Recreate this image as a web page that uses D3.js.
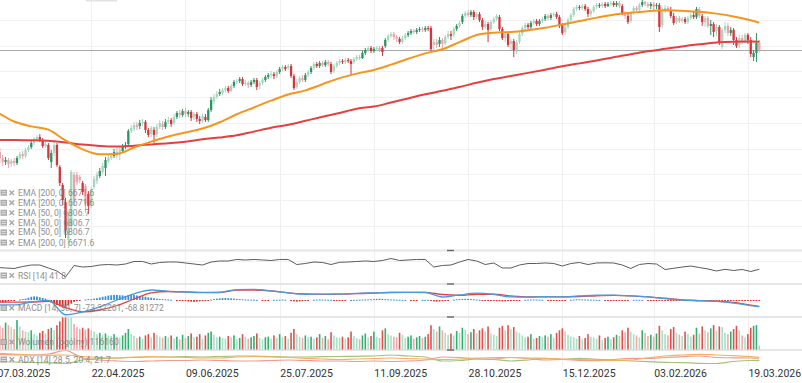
<!DOCTYPE html>
<html><head><meta charset="utf-8">
<script src="https://cdn.jsdelivr.net/npm/d3@7"></script>
<style>
html,body{margin:0;padding:0;background:#fff;overflow:hidden}
svg{display:block}
text{font-family:"Liberation Sans Narrow","Arial Narrow","Roboto",sans-serif}
</style></head><body>
<svg id="c" width="802" height="383"></svg>
<script>
// ---------- DATA ----------
const open = [5828,5773,5727,5696,5711,5680,5703,5688,5727,5758,
5742,5789,5812,5843,5875,5890,5867,5820,5828,5696,
5766,5828,5657,5517,5384,5089,5198,5595,5595,5579,
5532,5509,5447,5361,5501,5548,5587,5618,5649,5703,
5727,5742,5773,5750,5781,5812,5836,5937,5952,5983,
5976,5999,6007,5945,5913,5945,5913,5968,5991,5968,
6007,6022,5999,6046,6077,6061,6092,6069,6085,6046,
6069,6030,6015,6046,6022,6100,6170,6201,6225,6232,
6256,6271,6248,6287,6318,6326,6341,6302,6310,6295,
6318,6334,6287,6310,6334,6357,6372,6380,6365,6396,
6419,6435,6427,6442,6365,6279,6318,6349,6334,6372,
6396,6427,6458,6442,6466,6450,6474,6458,6404,6442,
6466,6481,6474,6489,6481,6474,6497,6512,6505,6544,
6567,6583,6559,6575,6583,6583,6598,6645,6676,6691,
6668,6653,6629,6660,6684,6699,6715,6707,6723,6730,
6723,6738,6738,6606,6629,6614,6645,6621,6668,6691,
6684,6730,6754,6785,6832,6855,6839,6863,6824,6847,
6800,6746,6769,6730,6785,6808,6824,6730,6660,6691,
6614,6637,6567,6629,6691,6738,6762,6746,6777,6793,
6769,6793,6808,6832,6816,6839,6847,6824,6762,6707,
6746,6800,6839,6886,6902,6894,6909,6886,6847,6870,
6902,6917,6909,6925,6909,6925,6933,6917,6933,6909,
6855,6832,6793,6855,6894,6878,6917,6940,6925,6909,
6925,6909,6917,6762,6878,6894,6878,6832,6785,6816,
6793,6808,6785,6816,6839,6824,6886,6832,6785,6816,
6754,6769,6715,6746,6590,6723,6754,6699,6723,6645,
6606,6660,6637,6684,6645,6512,6544,6621];
const high = [5843,5805,5750,5735,5727,5719,5727,5742,5773,5781,
5805,5828,5859,5890,5906,5913,5882,5859,5843,5789,
5851,5843,5672,5532,5416,5307,5633,5618,5618,5595,
5548,5524,5470,5501,5587,5618,5649,5688,5735,5750,
5766,5797,5805,5812,5836,5851,5952,5983,6007,6007,
6022,6030,6022,5960,5976,5968,5991,6022,6015,6030,
6046,6038,6069,6092,6100,6108,6116,6100,6100,6085,
6085,6053,6069,6069,6116,6201,6225,6248,6264,6271,
6287,6287,6302,6334,6341,6357,6357,6334,6326,6334,
6349,6349,6326,6349,6372,6388,6404,6396,6411,6435,
6450,6450,6458,6458,6380,6341,6365,6372,6388,6411,
6442,6474,6474,6481,6481,6489,6489,6474,6458,6481,
6497,6497,6505,6505,6497,6512,6528,6528,6559,6583,
6598,6598,6590,6598,6598,6598,6660,6691,6707,6707,
6684,6668,6676,6699,6715,6730,6730,6738,6746,6746,
6754,6754,6754,6653,6653,6668,6660,6684,6715,6715,
6746,6769,6793,6847,6870,6878,6878,6878,6863,6863,
6816,6793,6785,6800,6824,6847,6839,6746,6707,6707,
6653,6653,6645,6707,6754,6777,6777,6793,6808,6808,
6808,6824,6847,6847,6855,6863,6863,6839,6777,6762,
6816,6855,6902,6917,6917,6925,6925,6902,6886,6917,
6933,6933,6940,6940,6940,6948,6948,6948,6948,6925,
6870,6855,6870,6909,6909,6933,6956,6948,6940,6940,
6940,6933,6933,6894,6917,6909,6902,6855,6832,6832,
6824,6824,6832,6855,6863,6902,6902,6847,6832,6832,
6800,6785,6769,6762,6738,6785,6777,6746,6738,6668,
6684,6684,6699,6699,6668,6567,6699,6645];
const low = [5750,5688,5665,5672,5649,5657,5665,5672,5711,5719,
5727,5773,5797,5828,5859,5851,5805,5805,5711,5649,
5742,5657,5509,5361,5104,5027,5167,5353,5517,5532,
5439,5299,5291,5338,5486,5524,5571,5602,5587,5688,
5711,5727,5727,5711,5766,5797,5820,5921,5937,5945,
5952,5976,5921,5890,5890,5843,5890,5952,5945,5952,
5991,5968,5983,6030,6038,6046,6046,6046,6015,6022,
6007,5991,5999,6007,6007,6085,6147,6186,6209,6217,
6240,6232,6240,6271,6302,6310,6287,6287,6271,6279,
6302,6256,6264,6295,6318,6341,6349,6341,6349,6380,
6404,6404,6411,6349,6256,6264,6302,6318,6318,6357,
6380,6411,6427,6427,6435,6435,6442,6380,6388,6427,
6450,6458,6458,6466,6372,6458,6481,6489,6497,6528,
6551,6544,6544,6559,6551,6520,6583,6629,6660,6645,
6629,6614,6614,6645,6668,6684,6691,6691,6707,6707,
6707,6715,6559,6567,6583,6590,6575,6606,6653,6645,
6668,6715,6738,6769,6816,6824,6824,6800,6808,6785,
6723,6730,6629,6715,6769,6793,6715,6645,6629,6590,
6567,6512,6536,6614,6676,6723,6730,6730,6762,6754,
6754,6777,6793,6800,6800,6824,6808,6738,6684,6684,
6730,6785,6824,6870,6878,6878,6870,6824,6824,6855,
6886,6894,6894,6894,6902,6909,6902,6902,6894,6839,
6808,6769,6777,6839,6863,6863,6902,6909,6894,6886,
6878,6886,6707,6738,6855,6863,6816,6762,6769,6777,
6777,6769,6769,6800,6808,6808,6816,6754,6746,6738,
6684,6668,6676,6606,6575,6699,6676,6676,6606,6583,
6583,6614,6621,6614,6512,6481,6474,6551];
const close = [5773,5727,5696,5711,5680,5703,5688,5727,5758,5742,
5789,5812,5843,5875,5890,5867,5820,5836,5727,5766,
5828,5672,5532,5400,5167,5283,5618,5400,5540,5556,
5462,5369,5353,5478,5563,5595,5626,5665,5711,5727,
5742,5773,5750,5789,5812,5828,5937,5960,5983,5968,
5999,6007,5945,5906,5960,5906,5968,5999,5968,6007,
6022,5991,6046,6077,6061,6092,6069,6085,6038,6069,
6030,6015,6053,6022,6100,6178,6201,6225,6240,6256,
6271,6248,6287,6318,6326,6341,6302,6310,6295,6318,
6334,6279,6310,6334,6357,6372,6380,6365,6396,6419,
6435,6419,6442,6365,6271,6318,6349,6334,6372,6396,
6427,6458,6442,6466,6450,6474,6458,6396,6442,6466,
6481,6474,6489,6481,6458,6497,6512,6505,6544,6567,
6583,6559,6575,6583,6567,6551,6645,6676,6691,6668,
6653,6629,6660,6684,6699,6715,6707,6723,6730,6723,
6738,6730,6575,6629,6606,6645,6614,6668,6691,6676,
6730,6754,6777,6832,6855,6839,6863,6824,6847,6800,
6746,6769,6723,6785,6808,6832,6730,6660,6691,6606,
6637,6567,6629,6691,6738,6762,6746,6777,6793,6769,
6793,6808,6832,6816,6839,6847,6824,6762,6699,6746,
6800,6839,6886,6902,6894,6909,6886,6847,6870,6902,
6917,6909,6925,6909,6925,6933,6917,6933,6909,6855,
6832,6785,6855,6894,6878,6917,6940,6925,6909,6925,
6902,6917,6746,6878,6894,6878,6832,6777,6816,6793,
6808,6785,6816,6839,6824,6886,6832,6785,6816,6754,
6769,6707,6746,6629,6723,6754,6699,6723,6645,6598,
6660,6637,6684,6645,6536,6544,6621,6567];
const volume = [200,185,170,210,190,175,160,230,180,150,
140,135,150,120,110,130,145,125,160,170,
150,190,220,260,295,280,250,200,175,160,
170,155,165,150,140,120,130,115,125,110,
105,120,100,95,110,130,160,120,105,90,
100,85,110,120,95,130,115,100,90,105,
95,110,85,100,80,115,90,105,125,95,
100,120,85,110,130,140,115,95,100,90,
85,105,95,110,80,90,120,100,85,95,
105,125,90,80,95,100,85,110,90,120,
95,105,85,130,160,120,100,90,110,95,
100,85,95,120,90,105,80,135,110,95,
90,100,85,95,140,105,90,80,110,125,
95,105,140,100,90,150,165,120,110,100,
95,130,115,90,100,110,85,95,105,90,
100,120,190,160,140,180,150,130,115,125,
110,145,130,170,155,120,135,160,125,150,
165,140,180,125,115,105,170,185,150,190,
160,175,140,130,110,95,100,120,85,90,
105,95,110,100,120,90,130,150,165,140,
115,100,95,85,105,80,90,120,100,95,
85,110,75,90,100,80,95,115,105,150,
135,170,140,120,110,95,150,130,105,115,
100,125,185,150,120,110,160,175,130,115,
105,140,120,100,115,170,125,180,150,135,
165,190,145,180,175,130,120,140,160,185,
150,110,95,120,170,185,190,30];
const macdHist = [-25,-28,-30,-25,-15,-10,-5,0,5,10,
15,25,35,40,38,30,22,15,-10,-25,
-40,-55,-70,-80,-75,-60,-40,-20,-10,-5,
0,5,10,8,15,20,28,35,40,48,
52,55,55,52,50,45,55,58,55,50,
45,40,35,30,25,20,15,12,10,8,
5,3,0,-3,-5,-8,-12,-15,-18,-20,
-18,-15,-12,-10,-5,5,10,15,18,20,
22,20,18,15,12,10,8,6,5,4,
3,2,0,-2,-3,-2,0,2,3,4,
5,3,0,-8,-15,-18,-15,-12,-8,-4,
0,3,5,6,5,4,3,2,-3,-4,
-3,-2,-1,0,1,2,3,4,5,6,
7,8,10,12,14,12,10,8,6,5,
4,3,2,1,0,-1,-2,-1,0,1,
2,1,-8,-15,-18,-16,-12,-8,-4,0,
4,8,10,12,13,12,10,8,5,2,
-3,-6,-8,-10,-12,-13,-15,-16,-14,-12,
-10,-8,-6,-3,0,2,4,5,6,5,
4,2,0,-2,-4,-5,-6,-5,-4,-2,
0,3,5,7,8,7,6,5,4,3,
2,1,0,-2,-4,-5,-6,-5,-4,-3,
-2,-1,0,2,3,2,1,0,-2,-3,
-4,-6,-8,-10,-9,-8,-7,-6,-5,-3,
-1,1,2,3,2,1,0,-2,-3,-4,
-5,-6,-8,-9,-10,-9,-8,-7,-6,-5,
-5,-6,-6,-5,-5,-4,-5,-4];

// sampled indicator lines (bar index of each sample)
const lineBars = [0,6,12,18,24,30,36,42,48,54,60,66,72,78,84,90,96,102,108,114,120,126,132,138,144,150,156,162,168,174,180,186,192,198,204,210,216,222,228,234,240,246,252,258,264,267];
const ema50 = [6085,6011,5973,5947,5863,5794,5756,5758,5808,5854,5894,5925,5956,6005,6067,6120,6173,6221,6253,6301,6348,6383,6411,6453,6499,6541,6573,6628,6684,6702,6707,6721,6740,6765,6792,6819,6842,6856,6869,6876,6872,6865,6850,6828,6798,6780];
const ema200 = [5867,5867,5865,5861,5847,5831,5820,5816,5823,5832,5841,5854,5873,5886,5903,5932,5962,5985,6016,6048,6077,6110,6127,6158,6190,6222,6250,6279,6312,6341,6365,6389,6414,6440,6463,6485,6511,6534,6557,6576,6595,6611,6625,6632,6634,6632];
const macdLine = [-54,-54,-22,-3,-161,-131,-76,0,68,109,95,87,80,84,114,116,98,78,63,65,65,72,78,84,84,82,33,55,74,61,33,31,36,34,44,52,53,44,34,14,0,-8,-16,-33,-61,-73];
const signalLine = [-18,-24,-22,-16,-82,-129,-109,-60,11,78,93,89,83,82,107,109,99,78,66,62,63,69,75,82,83,83,60,51,63,63,44,33,35,35,38,46,50,46,35,19,2,-7,-14,-27,-57,-69];
const adxLine = [38.1,36.0,34.0,33.3,34.0,30.5,28.1,26.9,29.3,30.5,29.3,28.1,26.9,26.9,29.3,30.5,29.3,28.1,26.2,24.5,23.3,24.5,25.7,26.9,25.7,24.5,23.3,24.5,26.9,27.6,28.1,26.9,26.2,24.5,23.3,22.1,21.0,22.1,27.4,31.7,34.0,35.7,34.0,32.4,30.0,28.6];
const diMinus = [35.7,34.5,34.0,36.4,44.8,26.9,22.1,19.8,18.6,19.8,21.0,21.0,22.1,21.0,19.8,19.8,21.0,22.1,21.0,19.8,19.8,18.6,19.8,18.6,19.8,22.1,29.3,28.1,24.5,24.5,28.1,25.7,22.1,23.3,21.0,20.5,23.3,26.2,25.7,28.1,30.0,31.7,28.1,27.4,26.9,24.5];
const diPlus = [18.1,17.4,16.7,15.5,13.8,22.1,25.7,26.9,28.1,29.3,29.3,30.5,29.3,30.5,31.7,31.7,30.5,29.3,29.3,30.0,30.5,31.0,31.7,34.0,31.7,29.3,19.8,21.0,24.5,23.3,19.8,22.1,26.2,23.3,26.2,23.8,22.1,19.8,18.1,16.7,15.7,14.3,13.8,18.6,21.0,20.5];
const rsiBars = [0,3,6,9,12,15,18,21,24,27,30,33,36,39,42,45,48,51,54,57,60,63,66,69,72,75,78,81,84,87,90,93,96,99,102,105,108,111,114,117,120,123,126,129,132,135,138,141,144,147,150,153,156,159,162,165,168,171,174,177,180,183,186,189,192,195,198,201,204,207,210,213,216,219,222,225,228,231,234,237,240,243,246,249,252,255,258,261,264,267];
const rsi = [45.9,44.9,43.8,48.1,51.4,51.4,44.9,38.3,25.2,50.3,
47.0,48.1,51.4,52.5,51.4,53.6,59.1,59.1,53.6,56.9,
58.0,58.0,55.8,53.6,51.4,58.0,60.2,60.2,63.5,62.4,
63.5,62.4,61.3,63.5,63.5,52.5,54.7,58.0,56.9,52.5,
57.3,58.0,59.1,60.2,59.1,61.3,65.6,61.3,62.4,63.5,
63.5,47.0,50.3,51.4,58.0,63.5,60.2,52.5,55.8,44.9,
44.9,51.4,54.7,54.7,55.8,54.7,49.2,54.7,56.9,52.5,
55.8,56.2,55.8,51.4,43.8,52.5,54.7,53.6,41.6,44.2,
47.0,49.2,45.9,42.7,38.3,42.0,39.4,41.6,37.2,42.0];

const tickBars = [0,33,66,99,132,165,198,230,263];
const tickLabels = ["07.03.2025","22.04.2025","09.06.2025","25.07.2025","11.09.2025","28.10.2025","15.12.2025","03.02.2026","19.03.2026"];
const emaLegend = ["EMA [200, 0] 6671.6","EMA [200, 0] 6671.6","EMA [50, 0] 6806.7","EMA [50, 0] 6806.7","EMA [50, 0] 6806.7","EMA [200, 0] 6671.6"];
const rsiLabel = "RSI [14] 41.8";
const macdLabel = "MACD [14, 30, 7] -73.32261, -68.81272";
const volLabel = "Wolumen (ogólny) 116160";
const adxLabel = "ADX [14] 28.5, 20.4, 21.7";

// ---------- CHART ----------
const W = 802;
const svg = d3.select("#c");
const N = close.length;
const x = d3.scaleLinear().domain([0, 267]).range([-3, 759.3]);
const yP = d3.scaleLinear().domain([5011, 6956]).range([250, 0]);
const yR = d3.scaleLinear().domain([0, 100]).range([288.5, 242.8]);
const yM = d3.scaleLinear().domain([-180, 180]).range([316.5, 283.5]);
const yV = d3.scaleLinear().domain([0, 250]).range([349.5, 317.5]);
const yA = d3.scaleLinear().domain([0, 45]).range([369.3, 350.4]);

const UP = "#2e9462", DN = "#d2363f", UPL = "#a6d6bd", DNL = "#eca4aa";
const VUP = "#2fb06f", VDN = "#e0504c", VUPL = "#a8e0c6", VDNL = "#f3aaa7";

const defs = svg.append("defs");
function clip(id, y0, y1) {
  defs.append("clipPath").attr("id", id).append("rect")
    .attr("x", 0).attr("y", y0).attr("width", W).attr("height", y1 - y0);
}
clip("cMain", 0, 250); clip("cRsi", 251, 284); clip("cMacd", 284.5, 317);
clip("cVol", 317.5, 350); clip("cAdx", 350.5, 367);

// grid
const grid = svg.append("g");
grid.selectAll("line.v").data(tickBars).join("line")
  .attr("x1", d => Math.round(x(d)) + 0.5).attr("x2", d => Math.round(x(d)) + 0.5)
  .attr("y1", 0).attr("y2", 366).attr("stroke", "#efefef");
grid.selectAll("line.h").data(yP.ticks(10)).join("line")
  .attr("x1", 0).attr("x2", W)
  .attr("y1", d => Math.round(yP(d)) + 0.5).attr("y2", d => Math.round(yP(d)) + 0.5)
  .attr("stroke", "#f1f1f1");
grid.append("line").attr("x1", 0).attr("x2", W)
  .attr("y1", Math.round(yR(60)) + 0.5).attr("y2", Math.round(yR(60)) + 0.5).attr("stroke", "#efefef");
[250.5, 284, 317, 350].forEach(y => {
  grid.append("line").attr("x1", 0).attr("x2", W).attr("y1", y).attr("y2", y)
    .attr("stroke", "#e6e6e6").attr("stroke-width", 2);
});
// top scroll indicator
svg.append("rect").attr("x", 86).attr("y", 0).attr("width", 31).attr("height", 1.5).attr("fill", "#e3e3e3");

// last price line
const gMain = svg.append("g").attr("clip-path", "url(#cMain)");
const lp = Math.round(yP(close[N - 1])) + 0.5;
gMain.append("line").attr("x1", 0).attr("x2", W).attr("y1", lp).attr("y2", lp)
  .attr("stroke", "#a9a9a9").attr("stroke-width", 1);

const idx = d3.range(N);
const isLight = i => i > 0 && volume[i] < volume[i - 1];
const isUp = i => close[i] >= open[i];
const cCol = i => isUp(i) ? (isLight(i) ? UPL : UP) : (isLight(i) ? DNL : DN);
const vCol = i => isUp(i) ? (isLight(i) ? VUPL : VUP) : (isLight(i) ? VDNL : VDN);

// candles
const bw = 2.3;
gMain.selectAll("line.wick").data(idx).join("line")
  .attr("x1", i => x(i)).attr("x2", i => x(i))
  .attr("y1", i => yP(high[i])).attr("y2", i => yP(low[i]))
  .attr("stroke", cCol).attr("stroke-width", 1);
gMain.selectAll("rect.body").data(idx).join("rect")
  .attr("x", i => x(i) - bw / 2).attr("width", bw)
  .attr("y", i => yP(Math.max(open[i], close[i])))
  .attr("height", i => Math.max(1, Math.abs(yP(open[i]) - yP(close[i]))))
  .attr("fill", cCol);

// EMA lines
const lineP = d3.line().x((d, k) => x(lineBars[k])).y(d => yP(d)).curve(d3.curveMonotoneX);
gMain.append("path").attr("d", lineP(ema200)).attr("fill", "none").attr("stroke", "#e5403f").attr("stroke-width", 2);
gMain.append("path").attr("d", lineP(ema50)).attr("fill", "none").attr("stroke", "#f7941d").attr("stroke-width", 2);

// RSI
const gR = svg.append("g").attr("clip-path", "url(#cRsi)");
gR.append("path").attr("d", d3.line().x((d, k) => x(rsiBars[k])).y(d => yR(d))(rsi))
  .attr("fill", "none").attr("stroke", "#5c5c5c").attr("stroke-width", 1);

// MACD
const gM = svg.append("g").attr("clip-path", "url(#cMacd)");
gM.selectAll("rect.h").data(idx.filter(i => macdHist[i] !== 0)).join("rect")
  .attr("x", i => x(i) - 0.9).attr("width", 1.8)
  .attr("y", i => macdHist[i] > 0 ? yM(macdHist[i]) : yM(0))
  .attr("height", i => Math.max(1, Math.abs(yM(macdHist[i]) - yM(0))))
  .attr("fill", i => macdHist[i] > 0 ? "#3d8fd8" : "#d9302c");
const lineM = d3.line().x((d, k) => x(lineBars[k])).y(d => yM(d)).curve(d3.curveMonotoneX);
gM.append("path").attr("d", lineM(signalLine)).attr("fill", "none").attr("stroke", "#e04646").attr("stroke-width", 1.3);
gM.append("path").attr("d", lineM(macdLine)).attr("fill", "none").attr("stroke", "#4a9ae0").attr("stroke-width", 1.3);

// Volume
const gV = svg.append("g").attr("clip-path", "url(#cVol)");
gV.selectAll("rect.v").data(idx).join("rect")
  .attr("x", i => x(i) - 0.8).attr("width", 1.6)
  .attr("y", i => yV(volume[i])).attr("height", i => yV(0) - yV(volume[i]))
  .attr("fill", vCol);

// ADX
const gA = svg.append("g").attr("clip-path", "url(#cAdx)");
const lineA = d3.line().x((d, k) => x(lineBars[k])).y(d => yA(d)).curve(d3.curveMonotoneX);
gA.append("path").attr("d", lineA(diPlus)).attr("fill", "none").attr("stroke", "#a6c27a").attr("stroke-width", 1.2);
gA.append("path").attr("d", lineA(diMinus)).attr("fill", "none").attr("stroke", "#f29a90").attr("stroke-width", 1.2);
gA.append("path").attr("d", lineA(adxLine)).attr("fill", "none").attr("stroke", "#f6b15c").attr("stroke-width", 1.2);

// resize handles
[249.8, 283.3, 316.3, 349.3].forEach(y => {
  svg.append("rect").attr("x", 447).attr("y", y).attr("width", 7).attr("height", 1.4).attr("fill", "#666");
});

// legends
function legendRow(cy, label) {
  const g = svg.append("g").attr("opacity", 0.85);
  g.append("rect").attr("x", 0.5).attr("y", cy - 3).attr("width", 6.5).attr("height", 6).attr("fill", "#9c9c9c");
  g.append("line").attr("x1", 1.5).attr("x2", 6).attr("y1", cy - 1).attr("y2", cy - 1).attr("stroke", "#e8e8e8").attr("stroke-width", 0.8);
  g.append("line").attr("x1", 1.5).attr("x2", 6).attr("y1", cy + 1).attr("y2", cy + 1).attr("stroke", "#e8e8e8").attr("stroke-width", 0.8);
  g.append("line").attr("x1", 9.5).attr("x2", 14).attr("y1", cy - 2.3).attr("y2", cy + 2.3).attr("stroke", "#999").attr("stroke-width", 1.4);
  g.append("line").attr("x1", 9.5).attr("x2", 14).attr("y1", cy + 2.3).attr("y2", cy - 2.3).attr("stroke", "#999").attr("stroke-width", 1.4);
  g.append("text").attr("x", 18).attr("y", cy + 3).attr("font-size", 8.6).attr("fill", "#7c7c7c").text(label);
}
const legY = [192.7, 202.8, 212.8, 222.6, 232.4, 242.6];
emaLegend.forEach((t, k) => legendRow(legY[k], t));
legendRow(275.5, rsiLabel);
legendRow(308, macdLabel);
legendRow(342, volLabel);
legendRow(359.5, adxLabel);

// x axis labels
svg.selectAll("text.xl").data(tickBars).join("text")
  .attr("x", d => x(d) + 0.5).attr("y", 376.5)
  .attr("font-size", 10.5).attr("fill", "#333").text((d, k) => tickLabels[k]);
</script>
</body></html>
